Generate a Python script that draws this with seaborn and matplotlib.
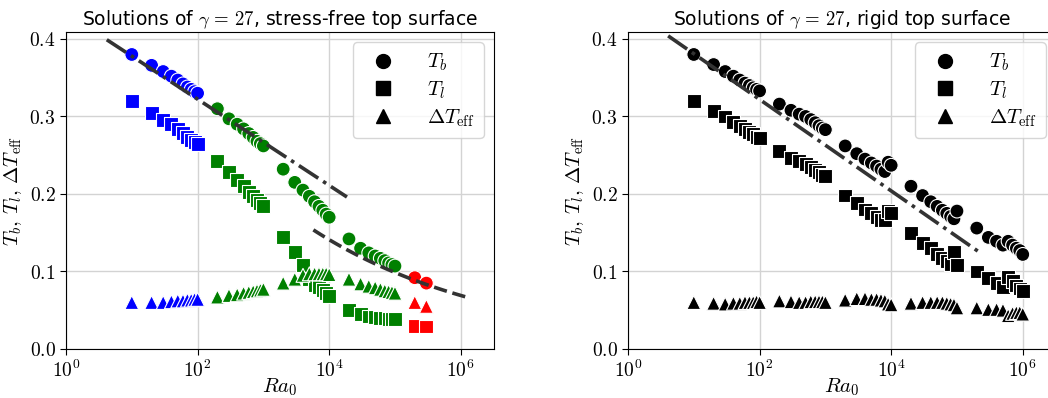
import numpy as np
import pandas as pd
import matplotlib
matplotlib.use("Agg")
import matplotlib.pyplot as plt
import seaborn as sns
from matplotlib.lines import Line2D
from matplotlib.ticker import FixedLocator, FuncFormatter, NullLocator

plt.rcParams['mathtext.fontset'] = 'cm'
plt.rcParams['font.family'] = ['DejaVu Sans']

# ---------------- data ----------------
ra_d1 = [10, 20, 30, 40, 50, 60, 70, 80, 90, 100]
ra_d2 = [200, 300, 400, 500, 600, 700, 800, 900, 1000]
ra_d3 = [2000, 3000, 4000, 5000, 6000, 7000, 8000, 9000, 10000]
ra_d4 = [20000, 30000, 40000, 50000, 60000, 70000, 80000, 90000, 100000]
ra_d5 = [200000, 300000, 400000, 500000, 600000, 700000, 800000, 900000, 1000000]

# stress-free top surface
sf_ra_blue = ra_d1
sf_ra_green = ra_d2 + ra_d3 + ra_d4
sf_ra_red = [200000, 300000]

sf_tb_blue = [0.380, 0.366, 0.358, 0.352, 0.347, 0.342, 0.338, 0.335, 0.332, 0.330]
sf_tb_green = [0.310, 0.297, 0.290, 0.284, 0.278, 0.273, 0.268, 0.265, 0.262,
               0.232, 0.215, 0.205, 0.197, 0.190, 0.184, 0.179, 0.174, 0.170,
               0.142, 0.130, 0.124, 0.120, 0.117, 0.114, 0.111, 0.109, 0.107]
sf_tb_red = [0.092, 0.085]

sf_tl_blue = [0.320, 0.304, 0.296, 0.290, 0.284, 0.279, 0.274, 0.270, 0.267, 0.264]
sf_tl_green = [0.242, 0.228, 0.218, 0.210, 0.203, 0.197, 0.192, 0.188, 0.184,
               0.145, 0.125, 0.108, 0.090, 0.083, 0.080, 0.076, 0.072, 0.068,
               0.050, 0.045, 0.042, 0.041, 0.040, 0.040, 0.039, 0.039, 0.039]
sf_tl_red = [0.030, 0.029]

sf_dt_blue = [0.060, 0.060, 0.060, 0.061, 0.062, 0.062, 0.063, 0.063, 0.064, 0.064]
sf_dt_green = [0.067, 0.069, 0.070, 0.072, 0.073, 0.074, 0.075, 0.076, 0.077,
               0.085, 0.090, 0.095, 0.097, 0.097, 0.097, 0.097, 0.097, 0.096,
               0.090, 0.084, 0.081, 0.079, 0.077, 0.075, 0.074, 0.073, 0.072]
sf_dt_red = [0.060, 0.055]

# rigid top surface
rg_ra = ra_d1 + ra_d2 + ra_d3 + ra_d4 + ra_d5
rg_tb = [0.380, 0.367, 0.358, 0.352, 0.347, 0.343, 0.340, 0.337, 0.335, 0.333,
         0.316, 0.308, 0.303, 0.300, 0.296, 0.292, 0.288, 0.285, 0.283,
         0.262, 0.252, 0.245, 0.240, 0.236, 0.232, 0.229, 0.241, 0.237,
         0.210, 0.198, 0.190, 0.184, 0.179, 0.175, 0.171, 0.168, 0.178,
         0.156, 0.144, 0.139, 0.134, 0.139, 0.134, 0.130, 0.127, 0.122]
rg_tl = [0.320, 0.307, 0.300, 0.293, 0.288, 0.284, 0.280, 0.277, 0.274, 0.272,
         0.255, 0.247, 0.243, 0.239, 0.235, 0.231, 0.228, 0.225, 0.223,
         0.198, 0.188, 0.180, 0.175, 0.170, 0.166, 0.166, 0.178, 0.176,
         0.150, 0.137, 0.130, 0.122, 0.117, 0.113, 0.110, 0.125, 0.108,
         0.100, 0.092, 0.085, 0.080, 0.093, 0.088, 0.082, 0.078, 0.075]
rg_dt = [0.060, 0.059, 0.058, 0.059, 0.059, 0.060, 0.060, 0.060, 0.061, 0.060,
         0.062, 0.061, 0.060, 0.060, 0.061, 0.061, 0.061, 0.061, 0.060,
         0.063, 0.065, 0.065, 0.064, 0.064, 0.063, 0.062, 0.058, 0.057,
         0.059, 0.060, 0.060, 0.060, 0.060, 0.059, 0.058, 0.057, 0.053,
         0.053, 0.051, 0.051, 0.050, 0.043, 0.046, 0.047, 0.047, 0.045]

# fitted curves: linear-in-log (dash-dot) and power law (dashed)
sf_loglin_a, sf_loglin_b, sf_loglin_range = 0.4335, -0.0556, (0.62, 4.27)
sf_pow_c, sf_pow_e, sf_pow_range = 0.588, -0.155, (3.76, 6.1)
rg_loglin_a, rg_loglin_b, rg_loglin_range = 0.44, -0.059, (0.61, 5.32)

quantities = ['Tb', 'Tl', 'dT']
legend_labels = [r'$T_b$', r'$T_l$', r'$\Delta T_{\rm eff}$']
markers = {'Tb': 'o', 'Tl': 's', 'dT': '^'}

# ---------------- frames ----------------
def frame(ra, vals, regime):
    rows = []
    for q, v in zip(quantities, vals):
        rows.append(pd.DataFrame({'Ra': ra, 'T': v, 'quantity': q, 'regime': regime}))
    return rows

sf_df = pd.concat(
    frame(sf_ra_blue, [sf_tb_blue, sf_tl_blue, sf_dt_blue], 'blue')
    + frame(sf_ra_green, [sf_tb_green, sf_tl_green, sf_dt_green], 'green')
    + frame(sf_ra_red, [sf_tb_red, sf_tl_red, sf_dt_red], 'red'),
    ignore_index=True)
rg_df = pd.concat(frame(rg_ra, [rg_tb, rg_tl, rg_dt], 'black'), ignore_index=True)

fig = plt.figure(figsize=(10.48, 3.98), dpi=100)
ax1 = fig.add_axes([66 / 1048, 49 / 398, 428 / 1048, 317 / 398])
ax2 = fig.add_axes([628 / 1048, 49 / 398, 428 / 1048, 317 / 398])

palette = {'blue': 'blue', 'green': 'green', 'red': 'red', 'black': 'black'}

for ax, df, title in [(ax1, sf_df, r'Solutions of $\gamma\, =\, 27$, stress-free top surface'),
                      (ax2, rg_df, r'Solutions of $\gamma\, =\, 27$, rigid top surface')]:
    sns.scatterplot(data=df, x='Ra', y='T', hue='regime', style='quantity',
                    palette=palette, markers=markers, s=100, edgecolor='white',
                    linewidth=0.8, legend=False, ax=ax, zorder=3)
    ax.set_xscale('log')
    ax.set_xlim(1, 3.2e6)
    ax.set_ylim(0, 0.409)
    ax.xaxis.set_major_locator(FixedLocator([1, 1e2, 1e4, 1e6]))
    ax.xaxis.set_minor_locator(NullLocator())
    ax.xaxis.set_major_formatter(FuncFormatter(lambda v, p: r'$10^{%d}$' % round(np.log10(v))))
    ax.yaxis.set_major_locator(FixedLocator([0.0, 0.1, 0.2, 0.3, 0.4]))
    ax.yaxis.set_major_formatter(FuncFormatter(lambda v, p: r'$%.1f$' % v))
    ax.tick_params(labelsize=14, length=4)
    ax.grid(True, color='#d3d3d3', lw=1.0, zorder=0)
    ax.set_axisbelow(True)
    ax.set_title(title, fontsize=13.5, pad=5)
    ax.set_xlabel(r'$Ra_0$', fontsize=15, labelpad=-3)
    ax.set_ylabel(r'$T_b,\, T_l,\, \Delta T_{\rm eff}$', fontsize=15, labelpad=4)
    handles = [Line2D([], [], ls='', marker=markers[q], color='black', markersize=10)
               for q in quantities]
    ax.legend(handles, legend_labels, loc='upper right', fontsize=15,
              handletextpad=1.1, borderpad=0.45, labelspacing=0.3, framealpha=0.8,
              borderaxespad=0.5)

def draw_loglin(ax, a, b, rng, ls):
    x = np.logspace(rng[0], rng[1], 50)
    ax.plot(x, a + b * np.log10(x), ls=ls, color='#333333', lw=2.6, zorder=4)

def draw_pow(ax, c, e, rng, ls):
    x = np.logspace(rng[0], rng[1], 80)
    ax.plot(x, c * x ** e, ls=ls, color='#333333', lw=2.6, zorder=4)

draw_loglin(ax1, sf_loglin_a, sf_loglin_b, sf_loglin_range, '-.')
draw_pow(ax1, sf_pow_c, sf_pow_e, sf_pow_range, '--')
draw_loglin(ax2, rg_loglin_a, rg_loglin_b, rg_loglin_range, '-.')

fig.savefig('out.png', dpi=100)
